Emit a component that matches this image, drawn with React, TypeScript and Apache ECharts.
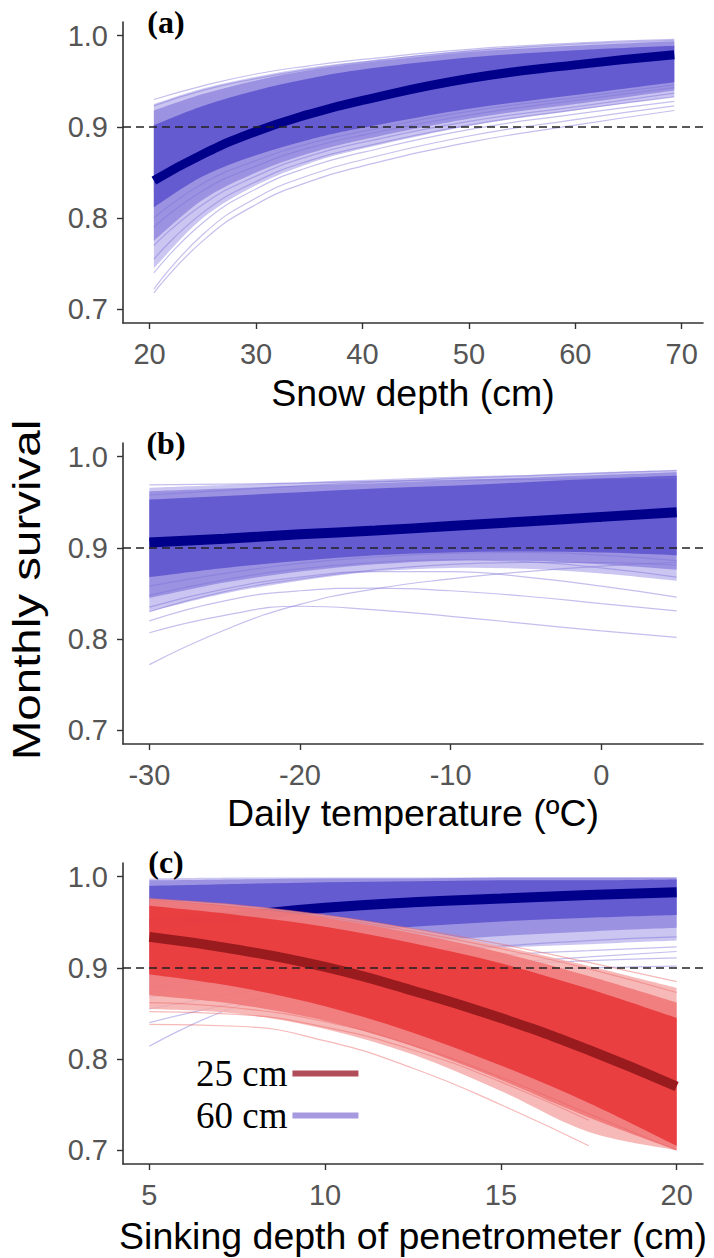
import React, { useEffect, useRef } from "react";
import * as echarts from "echarts";

// ---------- shared ----------
const Y_TICKS = [0.7, 0.8, 0.9, 1.0];
const THRESHOLD = 0.9;
const Y_MIN = 0.685;
const Y_MAX = 1.015;

// ---------- panel (a): snow depth ----------
const snowX = [20.4, 25, 30, 35, 40, 50, 60, 69.3];
const snowTicks = [20, 30, 40, 50, 60, 70];
const snowMean = [0.841, 0.87, 0.895, 0.914, 0.929, 0.953, 0.968, 0.979];
const snowWideLow = [0.745, 0.8, 0.836, 0.86, 0.876, 0.901, 0.918, 0.933];
const snowWideHigh = [0.925, 0.942, 0.955, 0.965, 0.972, 0.984, 0.991, 0.995];
const snowOuterLow = [0.775, 0.82, 0.85, 0.871, 0.886, 0.909, 0.925, 0.94];
const snowOuterHigh = [0.918, 0.936, 0.951, 0.962, 0.97, 0.982, 0.989, 0.994];
const snowInnerLow = [0.812, 0.846, 0.869, 0.886, 0.899, 0.92, 0.935, 0.949];
const snowInnerHigh = [0.902, 0.923, 0.94, 0.953, 0.963, 0.976, 0.984, 0.989];
const snowLines = [
  [0.93, 0.945, 0.958, 0.967, 0.974, 0.985, 0.992, 0.996],
  [0.923, 0.94, 0.953, 0.963, 0.971, 0.983, 0.991, 0.995],
  [0.718, 0.775, 0.815, 0.84, 0.857, 0.883, 0.902, 0.918],
  [0.722, 0.782, 0.822, 0.847, 0.864, 0.89, 0.908, 0.923],
  [0.74, 0.795, 0.832, 0.856, 0.872, 0.897, 0.914, 0.928],
  [0.755, 0.806, 0.84, 0.863, 0.878, 0.902, 0.919, 0.933],
  [0.77, 0.815, 0.846, 0.868, 0.883, 0.906, 0.922, 0.937],
  [0.79, 0.83, 0.857, 0.877, 0.891, 0.913, 0.929, 0.943],
  [0.8, 0.838, 0.863, 0.882, 0.895, 0.917, 0.932, 0.946],
];

// ---------- panel (b): daily temperature ----------
const tempX = [-30, -25, -20, -15, -10, -5, 0, 5];
const tempTicks = [-30, -20, -10, 0];
const tempMean = [0.906, 0.91, 0.915, 0.919, 0.924, 0.929, 0.934, 0.939];
const tempWideLow = [0.83, 0.85, 0.864, 0.874, 0.878, 0.877, 0.872, 0.864];
const tempWideHigh = [0.966, 0.969, 0.972, 0.975, 0.978, 0.98, 0.983, 0.985];
const tempOuterLow = [0.845, 0.862, 0.874, 0.882, 0.886, 0.886, 0.882, 0.876];
const tempOuterHigh = [0.962, 0.965, 0.968, 0.971, 0.974, 0.977, 0.98, 0.983];
const tempInnerLow = [0.868, 0.878, 0.886, 0.892, 0.895, 0.896, 0.895, 0.892];
const tempInnerHigh = [0.953, 0.957, 0.961, 0.965, 0.968, 0.972, 0.976, 0.979];
const tempLines = [
  [0.969, 0.97, 0.971, 0.973, 0.974, 0.975, 0.976, 0.977],
  [0.958, 0.963, 0.968, 0.972, 0.976, 0.979, 0.982, 0.985],
  [0.772, 0.81, 0.838, 0.855, 0.866, 0.874, 0.88, 0.884],
  [0.807, 0.826, 0.836, 0.832, 0.825, 0.817, 0.809, 0.802],
  [0.82, 0.842, 0.853, 0.856, 0.853, 0.847, 0.839, 0.831],
  [0.835, 0.855, 0.868, 0.874, 0.874, 0.868, 0.858, 0.846],
  [0.848, 0.865, 0.877, 0.884, 0.887, 0.885, 0.878, 0.868],
  [0.858, 0.872, 0.883, 0.89, 0.894, 0.895, 0.892, 0.886],
  [0.83, 0.852, 0.866, 0.876, 0.882, 0.884, 0.884, 0.881],
];

// ---------- panel (c): sinking depth ----------
const sinkX = [5, 7.5, 10, 12.5, 15, 17.5, 20];
const sinkTicks = [5, 10, 15, 20];
// 60 cm snow depth
const blueMean = [0.948, 0.957, 0.966, 0.972, 0.976, 0.98, 0.983];
const blueWideLow = [0.87, 0.89, 0.905, 0.915, 0.922, 0.926, 0.93];
const blueWideHigh = [0.998, 0.999, 0.999, 0.999, 0.999, 0.999, 0.999];
const blueOuterLow = [0.89, 0.905, 0.918, 0.928, 0.935, 0.94, 0.944];
const blueOuterHigh = [0.996, 0.997, 0.998, 0.998, 0.999, 0.999, 0.999];
const blueInnerLow = [0.912, 0.926, 0.937, 0.945, 0.951, 0.955, 0.958];
const blueInnerHigh = [0.99, 0.992, 0.994, 0.995, 0.996, 0.996, 0.997];
const blueLines = [
  [0.814, 0.858, 0.88, 0.895, 0.905, 0.912, 0.918],
  [0.84, 0.862, 0.878, 0.889, 0.896, 0.9, 0.902],
  [0.855, 0.872, 0.886, 0.896, 0.903, 0.908, 0.911],
  [0.868, 0.884, 0.897, 0.907, 0.914, 0.919, 0.923],
  [0.878, 0.894, 0.907, 0.917, 0.924, 0.93, 0.934],
];
// 25 cm snow depth
const redMean = [0.934, 0.92, 0.901, 0.875, 0.845, 0.81, 0.77];
const redWideLow = [0.855, 0.85, 0.833, 0.805, 0.765, 0.72, 0.7];
const redWideHigh = [0.976, 0.969, 0.958, 0.943, 0.924, 0.902, 0.878];
const redOuterLow = [0.87, 0.86, 0.842, 0.814, 0.777, 0.736, 0.7];
const redOuterHigh = [0.975, 0.967, 0.955, 0.938, 0.917, 0.891, 0.862];
const redInnerLow = [0.893, 0.879, 0.858, 0.829, 0.793, 0.752, 0.705];
const redInnerHigh = [0.968, 0.958, 0.945, 0.927, 0.905, 0.877, 0.845];
const redLines = [
  [0.976, 0.969, 0.958, 0.943, 0.926, 0.906, 0.885],
  [0.975, 0.967, 0.956, 0.94, 0.921, 0.899, 0.873],
  [0.838, 0.836, 0.82, 0.79, 0.75, 0.705, null],
  [0.852, 0.849, 0.835, 0.81, 0.775, 0.733, null],
  [0.862, 0.856, 0.841, 0.815, 0.78, 0.74, 0.7],
];

const LEGEND_NAMES = ["25 cm", "60 cm"];
const PANEL_LETTERS = ["(a)", "(b)", "(c)"];
const X_TITLES = ["Snow depth (cm)", "Daily temperature (ºC)", "Sinking depth of penetrometer (cm)"];
const Y_TITLE = "Monthly survival";

// ---------- layout / style ----------
const GRID_LEFT = 123;
const GRID_W = 580;
const GRID_H = 301;
const GRID_TOPS = [22, 443, 863];
const SANS = "Liberation Sans, Arial, sans-serif";
const SERIF = "Liberation Serif, Times New Roman, serif";

const BLUE_WIDE = "#bdb6ee";
const BLUE_OUTER = "#8f86df";
const BLUE_INNER = "#6257cf";
const BLUE_LINE = "#7d72d8";
const BLUE_MEAN = "#00008b";
const RED_WIDE = "#f5a7a6";
const RED_OUTER = "#f07476";
const RED_INNER = "#e8393c";
const RED_LINE = "#ec6464";
const RED_MEAN = "#9a1b1e";

// smooth curve through pixel points (Catmull-Rom as cubic Béziers)
function curveThrough(ctx: any, pts: number[][]) {
  for (let i = 0; i < pts.length - 1; i++) {
    const p0 = pts[i - 1] || pts[i];
    const p1 = pts[i];
    const p2 = pts[i + 1];
    const p3 = pts[i + 2] || p2;
    ctx.bezierCurveTo(
      p1[0] + (p2[0] - p0[0]) / 6,
      p1[1] + (p2[1] - p0[1]) / 6,
      p2[0] - (p3[0] - p1[0]) / 6,
      p2[1] - (p3[1] - p1[1]) / 6,
      p2[0],
      p2[1]
    );
  }
}

const BandShape = (echarts as any).graphic.extendShape({
  type: "band",
  shape: { upper: [], lower: [] },
  buildPath(ctx: any, shape: any) {
    const up: number[][] = shape.upper || [];
    const lo: number[][] = shape.lower || [];
    if (up.length < 2 || lo.length < 2) return;
    ctx.moveTo(up[0][0], up[0][1]);
    curveThrough(ctx, up);
    const rev = lo.slice().reverse();
    ctx.lineTo(rev[0][0], rev[0][1]);
    curveThrough(ctx, rev);
    ctx.closePath();
  },
});
(echarts as any).graphic.registerShape("band", BandShape);

const pairs = (xs: number[], ys: (number | null)[]) => xs.map((x, i) => [x, ys[i]]);

function bandSeries(gi: number, xs: number[], low: number[], high: number[], color: string, opacity: number, z: number) {
  return {
    type: "custom",
    xAxisIndex: gi,
    yAxisIndex: gi,
    silent: true,
    z,
    clip: true,
    data: xs.map((x, i) => [x, low[i], high[i]]),
    encode: { x: 0, y: [1, 2] },
    renderItem: (params: any, api: any) => {
      if (params.dataIndex !== 0) return null;
      const upper = xs.map((x, i) => api.coord([x, high[i]]));
      const lower = xs.map((x, i) => api.coord([x, low[i]]));
      return {
        type: "band",
        shape: { upper, lower },
        style: { fill: color, opacity },
        silent: true,
      };
    },
  };
}

function thinLines(gi: number, xs: number[], lines: (number | null)[][], color: string, opacity: number, z: number) {
  return lines.map((ys) => ({
    type: "line",
    xAxisIndex: gi,
    yAxisIndex: gi,
    data: pairs(xs, ys),
    smooth: true,
    symbol: "none",
    silent: true,
    lineStyle: { color, width: 1.2, opacity },
    z,
  }));
}

function meanSeries(gi: number, xs: number[], ys: number[], color: string, width: number, z: number, name?: string, withThreshold = false) {
  const s: any = {
    type: "line",
    name,
    xAxisIndex: gi,
    yAxisIndex: gi,
    data: pairs(xs, ys),
    smooth: true,
    symbol: "none",
    silent: true,
    lineStyle: { color, width, cap: "butt" },
    itemStyle: { color },
    z,
  };
  if (withThreshold) {
    s.markLine = {
      silent: true,
      symbol: ["none", "none"],
      z: 20,
      label: { show: false },
      lineStyle: { type: [8, 5], color: "#222", width: 1.7 },
      data: [{ yAxis: THRESHOLD }],
    };
  }
  return s;
}

function xAxisCfg(gi: number, min: number, max: number, ticks: number[]) {
  return {
    type: "value",
    gridIndex: gi,
    min,
    max,
    axisLine: { show: true, onZero: false, lineStyle: { color: "#333", width: 1.6 } },
    axisTick: { show: true, length: 6, customValues: ticks, lineStyle: { color: "#333", width: 1.4 } },
    axisLabel: { customValues: ticks, margin: 16, fontSize: 29, color: "#555", fontFamily: SANS },
    splitLine: { show: false },
  };
}

function yAxisCfg(gi: number) {
  return {
    type: "value",
    gridIndex: gi,
    min: Y_MIN,
    max: Y_MAX,
    axisLine: { show: true, onZero: false, lineStyle: { color: "#333", width: 1.6 } },
    axisTick: { show: true, length: 6, customValues: Y_TICKS, lineStyle: { color: "#333", width: 1.4 } },
    axisLabel: {
      customValues: Y_TICKS,
      margin: 15,
      fontSize: 29,
      color: "#555",
      fontFamily: SANS,
      formatter: (v: number) => v.toFixed(1),
    },
    splitLine: { show: false },
  };
}

function buildOption() {
  const series: any[] = [
    // (a)
    bandSeries(0, snowX, snowWideLow, snowWideHigh, BLUE_WIDE, 0.8, 1),
    bandSeries(0, snowX, snowOuterLow, snowOuterHigh, BLUE_OUTER, 0.8, 1),
    bandSeries(0, snowX, snowInnerLow, snowInnerHigh, BLUE_INNER, 0.95, 2),
    ...thinLines(0, snowX, snowLines, BLUE_LINE, 0.45, 3),
    meanSeries(0, snowX, snowMean, BLUE_MEAN, 9, 4, undefined, true),
    // (b)
    bandSeries(1, tempX, tempWideLow, tempWideHigh, BLUE_WIDE, 0.8, 1),
    bandSeries(1, tempX, tempOuterLow, tempOuterHigh, BLUE_OUTER, 0.8, 1),
    bandSeries(1, tempX, tempInnerLow, tempInnerHigh, BLUE_INNER, 0.95, 2),
    ...thinLines(1, tempX, tempLines, BLUE_LINE, 0.45, 3),
    meanSeries(1, tempX, tempMean, BLUE_MEAN, 10, 4, undefined, true),
    // (c) 60 cm (blue) under 25 cm (red)
    bandSeries(2, sinkX, blueWideLow, blueWideHigh, BLUE_WIDE, 0.8, 1),
    bandSeries(2, sinkX, blueOuterLow, blueOuterHigh, BLUE_OUTER, 0.8, 1),
    bandSeries(2, sinkX, blueInnerLow, blueInnerHigh, BLUE_INNER, 0.95, 2),
    ...thinLines(2, sinkX, blueLines, BLUE_LINE, 0.45, 3),
    meanSeries(2, sinkX, blueMean, BLUE_MEAN, 10, 4, LEGEND_NAMES[1]),
    bandSeries(2, sinkX, redWideLow, redWideHigh, RED_WIDE, 0.8, 5),
    bandSeries(2, sinkX, redOuterLow, redOuterHigh, RED_OUTER, 0.85, 5),
    bandSeries(2, sinkX, redInnerLow, redInnerHigh, RED_INNER, 0.92, 6),
    ...thinLines(2, sinkX, redLines, RED_LINE, 0.45, 7),
    meanSeries(2, sinkX, redMean, RED_MEAN, 10, 8, LEGEND_NAMES[0], true),
  ];

  const graphic: any[] = [];
  const letterY = [22, 443, 862];
  const titleY = [393, 813, 1236];
  PANEL_LETTERS.forEach((t, i) => {
    graphic.push({
      type: "text",
      x: 166,
      y: letterY[i],
      z: 30,
      style: {
        text: t,
        fontFamily: SERIF,
        fontWeight: "bold",
        fontSize: 32,
        fill: "#000",
        textAlign: "center",
        textVerticalAlign: "middle",
      },
    });
  });
  X_TITLES.forEach((t, i) => {
    graphic.push({
      type: "text",
      x: GRID_LEFT + GRID_W / 2,
      y: titleY[i],
      style: {
        text: t,
        fontFamily: SANS,
        fontSize: 37.5,
        fill: "#000",
        textAlign: "center",
        textVerticalAlign: "middle",
      },
    });
  });
  graphic.push({
    type: "text",
    x: 27,
    y: 590,
    rotation: Math.PI / 2,
    scaleX: 1.25,
    style: {
      text: Y_TITLE,
      fontFamily: SANS,
      fontSize: 38,
      fill: "#000",
      textAlign: "center",
      textVerticalAlign: "middle",
    },
  });

  return {
    animation: false,
    backgroundColor: "#fff",
    grid: GRID_TOPS.map((top) => ({ left: GRID_LEFT, top, width: GRID_W, height: GRID_H, containLabel: false })),
    xAxis: [
      xAxisCfg(0, 17.5, 72.0, snowTicks),
      xAxisCfg(1, -31.75, 6.75, tempTicks),
      xAxisCfg(2, 4.25, 20.75, sinkTicks),
    ],
    yAxis: [yAxisCfg(0), yAxisCfg(1), yAxisCfg(2)],
    legend: {
      show: true,
      z: 50,
      orient: "vertical",
      align: "right",
      left: 191,
      top: 1050,
      icon: "rect",
      itemWidth: 66,
      itemHeight: 6,
      itemGap: 5,
      selectedMode: false,
      textStyle: { fontFamily: SERIF, fontSize: 37, color: "#000", lineHeight: 34 },
      data: [
        { name: LEGEND_NAMES[0], itemStyle: { color: "#b14c5a" } },
        { name: LEGEND_NAMES[1], itemStyle: { color: "#a79ae0" } },
      ],
    },
    graphic,
    series,
  };
}

export default function App() {
  const ref = useRef<HTMLDivElement>(null);
  useEffect(() => {
    document.body.style.margin = "0";
    const chart = echarts.init(ref.current!, null, { renderer: "svg" });
    chart.setOption(buildOption() as any);
    return () => chart.dispose();
  }, []);
  return <div ref={ref} style={{ width: 714, height: 1258 }} />;
}
